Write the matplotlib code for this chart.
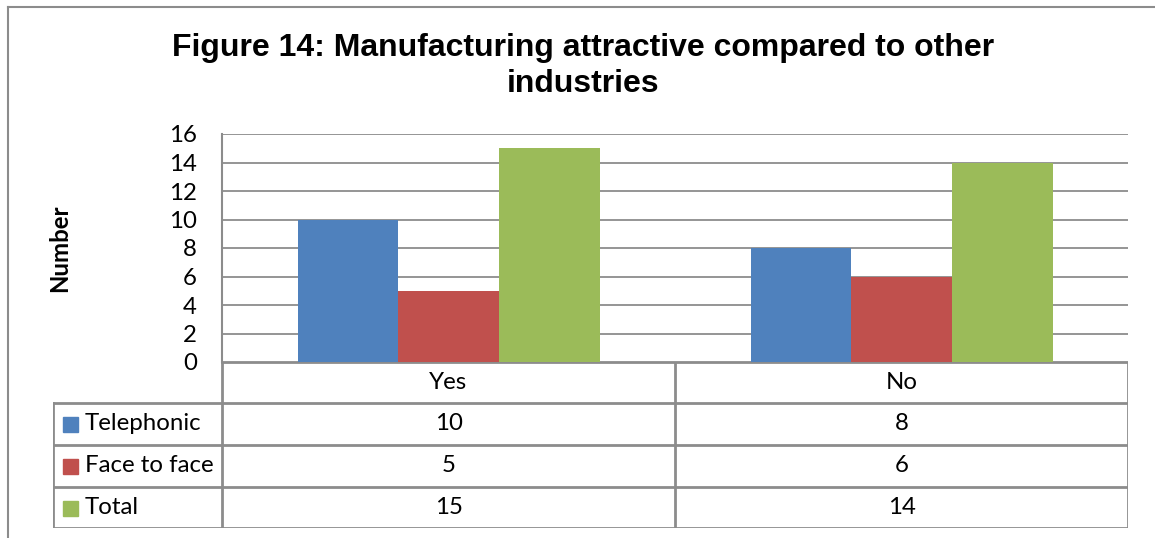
import numpy as np
import matplotlib.pyplot as plt
from matplotlib.patches import Rectangle

categories = ["Yes", "No"]
series_names = ["Telephonic", "Face to face", "Total"]
telephonic = [10, 8]
face_to_face = [5, 6]
total = [15, 14]
yticks = [0, 2, 4, 6, 8, 10, 12, 14, 16]

colors = ["#4F81BD", "#C0504D", "#9BBB59"]
grid_c = "#8C8C8C"
W, H = 1155, 538
fs = 17.3

plt.rcParams['font.family'] = ['Lato', 'DejaVu Sans']
fig = plt.figure(figsize=(W / 100, H / 100), dpi=100)


def fx(px):
    return px / W


def fy(py):
    return 1 - py / H


# outer chart frame (left + top only visible in crop)
fig.add_artist(plt.Line2D([fx(8), fx(8)], [fy(7), 0], color="#8C8C8C", lw=1.5))
fig.add_artist(plt.Line2D([fx(8), 1], [fy(7), fy(7)], color="#8C8C8C", lw=1.5))

# bar axes
x0, x1, y0, y1 = 222, 1128, 134, 362
ax = fig.add_axes([fx(x0), fy(y1), fx(x1 - x0), (y1 - y0) / H])
data = [telephonic, face_to_face, total]
x = np.arange(len(categories))
bw = 1 / 4.5
for i, vals in enumerate(data):
    ax.bar(x + (i - 1) * bw, vals, width=bw, color=colors[i], zorder=3)
ax.set_xlim(-0.5, len(categories) - 0.5)
ax.set_ylim(0, 16)
ax.set_yticks(yticks)
ax.set_yticklabels([str(t) for t in yticks], fontsize=fs)
ax.set_xticks([])
ax.yaxis.grid(True, color=grid_c, lw=1.3, zorder=0)
ax.tick_params(axis="y", length=0, pad=18)
for s in ["top", "right", "bottom"]:
    ax.spines[s].set_visible(False)
ax.spines["left"].set_color(grid_c)
ax.spines["left"].set_linewidth(1.5)
fig.text(fx(60), fy(248), "Number", rotation=90, ha="center", va="center",
         fontsize=fs, fontweight="bold")

fig.text(fx(583), fy(48), "Figure 14: Manufacturing attractive compared to other",
         ha="center", va="center", fontsize=23, fontweight="bold", family="Liberation Sans")
fig.text(fx(583), fy(84), "industries",
         ha="center", va="center", fontsize=23, fontweight="bold", family="Liberation Sans")

# data table
tx0, tx1 = 53, 1128
rows_y = [362, 403, 445, 487, 528]
tax = fig.add_axes([fx(tx0), fy(rows_y[-1]), fx(tx1 - tx0), (rows_y[-1] - rows_y[0]) / H])
tax.set_xlim(tx0, tx1)
tax.set_ylim(rows_y[-1], rows_y[0])
tax.axis("off")
lc = dict(color=grid_c, lw=2, solid_capstyle="projecting")
col_x = [222, 675, 1128]
tax.plot([222, 1128], [362, 362], **lc)
tax.plot([675, 675], [362, 528], **lc)
tax.plot([1128, 1128], [362, 528], **lc)
tax.plot([222, 222], [362, 528], **lc)
for yy in rows_y[1:]:
    tax.plot([53, 1128], [yy, yy], **lc)
tax.plot([53, 53], [403, 528], **lc)

for j, cat in enumerate(categories):
    cx = (col_x[j] + col_x[j + 1]) / 2
    tax.text(cx, (rows_y[0] + rows_y[1]) / 2, cat, ha="center", va="center", fontsize=fs)
    for i, vals in enumerate(data):
        tax.text(cx, (rows_y[i + 1] + rows_y[i + 2]) / 2, str(vals[j]),
                 ha="center", va="center", fontsize=fs)

for i, name in enumerate(series_names):
    cy = (rows_y[i + 1] + rows_y[i + 2]) / 2
    tax.add_patch(Rectangle((63, cy - 7), 15, 15, color=colors[i]))
    tax.text(85, cy, name, ha="left", va="center", fontsize=fs)

fig.savefig("out.png", dpi=100)
